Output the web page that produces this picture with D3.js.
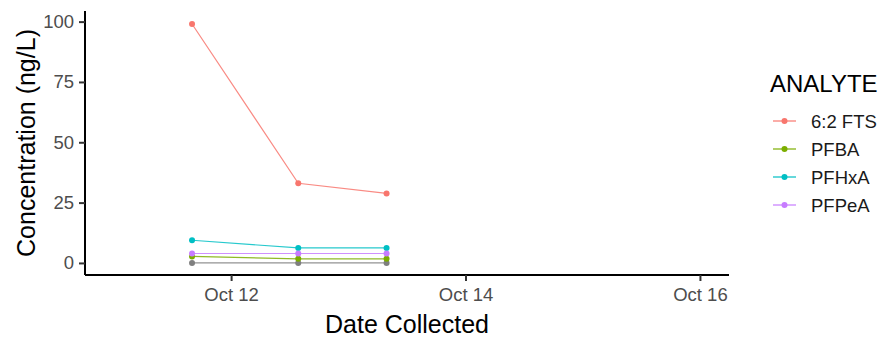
<!DOCTYPE html>
<html>
<head>
<script src="https://d3js.org/d3.v7.min.js"></script>
<style>
  body { margin: 0; background: #fff; font-family: 'Liberation Sans', Arial, sans-serif; }
  .tick text { fill: #4d4d4d; }
</style>
</head>
<body>
<script>
// sample dates
var dates = ["2021-10-11T16:00", "2021-10-12T13:45", "2021-10-13T07:50"];
var analytes = ["6:2 FTS", "PFBA", "PFHxA", "PFPeA"];
var colors = ["#F8766D", "#7CAE00", "#00BFC4", "#C77CFF"];
var fts = [99.0, 33.0, 28.8];
var pfba = [2.7, 1.7, 1.7];
var pfhxa = [9.4, 6.2, 6.2];
var pfpea = [3.9, 3.9, 3.9];
var other = [0, 0, 0];   // grey, not in legend
var yTicks = [0, 25, 50, 75, 100];
var xTicks = ["2021-10-12", "2021-10-14", "2021-10-16"];

var parse = d3.timeParse("%Y-%m-%dT%H:%M");
var parseDay = d3.timeParse("%Y-%m-%d");

var series = [
  {name: "NA", color: "#7F7F7F", values: other},
  {name: analytes[0], color: colors[0], values: fts},
  {name: analytes[1], color: colors[1], values: pfba},
  {name: analytes[2], color: colors[2], values: pfhxa},
  {name: analytes[3], color: colors[3], values: pfpea}
];

var W = 884, H = 337;
var pLeft = 85, pRight = 729, pTop = 11, pBottom = 275;

var svg = d3.select("body").append("svg")
  .attr("width", W).attr("height", H);

var x = d3.scaleTime()
  .domain([parse("2021-10-10T18:05"), parse("2021-10-16T05:57")])
  .range([pLeft, pRight]);
var y = d3.scaleLinear()
  .domain([-5.0, 104.4])
  .range([pBottom, pTop]);

// y axis
var yAxis = svg.append("g")
  .attr("transform", "translate(" + pLeft + ",0)")
  .call(d3.axisLeft(y).tickValues(yTicks).tickSize(6).tickPadding(5));
yAxis.select(".domain").attr("stroke", "#000").attr("stroke-width", 2).attr("d", "M0," + pTop + "V" + pBottom);
yAxis.selectAll(".tick line").attr("stroke", "#333").attr("stroke-width", 2);
yAxis.selectAll(".tick text").attr("font-size", 18.5).attr("font-family", "'Liberation Sans', Arial, sans-serif");

// x axis
var xAxis = svg.append("g")
  .attr("transform", "translate(0," + pBottom + ")")
  .call(d3.axisBottom(x).tickValues(xTicks.map(parseDay)).tickFormat(d3.timeFormat("%b %d")).tickSize(6).tickPadding(7));
xAxis.select(".domain").attr("stroke", "#000").attr("stroke-width", 2).attr("d", "M" + pLeft + ",0H" + pRight);
xAxis.selectAll(".tick line").attr("stroke", "#333").attr("stroke-width", 2);
xAxis.selectAll(".tick text").attr("font-size", 18.5).attr("font-family", "'Liberation Sans', Arial, sans-serif");

// titles
svg.append("text")
  .attr("x", (pLeft + pRight) / 2).attr("y", 333)
  .attr("text-anchor", "middle").attr("font-size", 25)
  .text("Date Collected");
svg.append("text")
  .attr("transform", "translate(35," + ((pTop + pBottom) / 2) + ") rotate(-90)")
  .attr("text-anchor", "middle").attr("font-size", 25)
  .text("Concentration (ng/L)");

// lines and points
var line = d3.line()
  .x(function(d, i) { return x(parse(dates[i])); })
  .y(function(d) { return y(d); });

series.forEach(function(s) {
  svg.append("path")
    .attr("d", line(s.values))
    .attr("fill", "none")
    .attr("stroke", s.color)
    .attr("stroke-opacity", 0.85)
    .attr("stroke-width", 1.2);
  svg.selectAll(null)
    .data(s.values)
    .enter().append("circle")
    .attr("cx", function(d, i) { return x(parse(dates[i])); })
    .attr("cy", function(d) { return y(d); })
    .attr("r", 3)
    .attr("fill", s.color);
});

// legend
var legend = svg.append("g");
legend.append("text")
  .attr("x", 770).attr("y", 92)
  .attr("font-size", 24)
  .text("ANALYTE");
var item = legend.selectAll(".item")
  .data(analytes)
  .enter().append("g")
  .attr("transform", function(d, i) { return "translate(0," + (121 + i * 28) + ")"; });
item.append("line")
  .attr("x1", 773).attr("x2", 796)
  .attr("stroke", function(d, i) { return colors[i]; })
  .attr("stroke-width", 1.2);
item.append("circle")
  .attr("cx", 784.5).attr("r", 3)
  .attr("fill", function(d, i) { return colors[i]; });
item.append("text")
  .attr("x", 811).attr("y", 6.5)
  .attr("font-size", 18.5)
  .attr("fill", "#1a1a1a")
  .text(function(d) { return d; });
</script>
</body>
</html>
